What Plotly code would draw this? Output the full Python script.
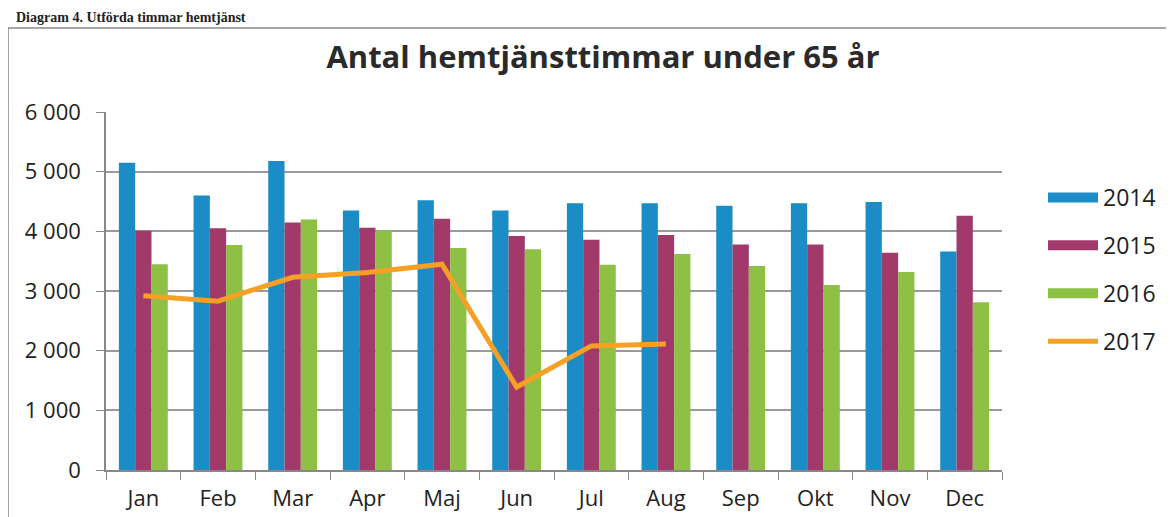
import plotly.graph_objects as go

months = ["Jan", "Feb", "Mar", "Apr", "Maj", "Jun", "Jul", "Aug", "Sep", "Okt", "Nov", "Dec"]
v2014 = [5150, 4600, 5180, 4350, 4520, 4350, 4470, 4470, 4430, 4470, 4490, 3660]
v2015 = [4010, 4050, 4150, 4060, 4210, 3920, 3860, 3940, 3780, 3780, 3640, 4260]
v2016 = [3450, 3770, 4200, 4010, 3720, 3700, 3440, 3620, 3420, 3100, 3320, 2810]
months2017 = ["Jan", "Feb", "Mar", "Apr", "Maj", "Jun", "Jul", "Aug"]
v2017 = [2920, 2830, 3230, 3310, 3450, 1390, 2080, 2110]

yticks = [0, 1000, 2000, 3000, 4000, 5000, 6000]

c2014 = "#1b8cc6"
c2015 = "#a13a6b"
c2016 = "#8dc044"
c2017 = "#f6a025"

fig = go.Figure()
for vals, col, nm in [(v2014, c2014, "2014"), (v2015, c2015, "2015"), (v2016, c2016, "2016")]:
    fig.add_trace(go.Bar(x=months, y=vals, name=nm, marker_color=col,
                         marker_line_width=0, showlegend=False))
fig.add_trace(go.Scatter(x=months2017, y=v2017, name="2017", mode="lines",
                         line=dict(color=c2017, width=5), showlegend=False))

# legend entries (wide swatches like the original)
for nm, col, w in [("2014", c2014, 12), ("2015", c2015, 12), ("2016", c2016, 12), ("2017", c2017, 5)]:
    fig.add_trace(go.Scatter(x=[None], y=[None], mode="lines", name=nm,
                             line=dict(color=col, width=w), legendgroup=nm,
                             showlegend=True))

OFF = 8  # page body margin offset
W, H = 1174, 517
L, R, T, B = 106 - OFF, W - 1002 + OFF, 112 - OFF, H - 470 + OFF
pw = W - L - R
ph = H - T - B

def px(x):
    return (x - OFF - L) / pw

def py(y):
    return (H - B - (y - OFF)) / ph

font = "Open Sans, Lato, sans-serif"

fig.update_layout(
    width=W, height=H,
    margin=dict(l=L, r=R, t=T, b=B, pad=0, autoexpand=False),
    paper_bgcolor="white", plot_bgcolor="white",
    separators=", ",
    barmode="group", bargap=0.345, bargroupgap=0,
    font=dict(family=font, color="#222222", size=22),
    title=dict(text="<b>Antal hemtjänsttimmar under 65 år</b>",
               x=(603 - OFF) / W, xanchor="center", y=1 - (57 - OFF) / H, yanchor="middle",
               font=dict(family=font, size=31, color="#2a2a2a")),
    showlegend=True,
    legend=dict(x=px(1043), xanchor="left", y=py(176), yanchor="top",
                font=dict(family=font, size=23, color="#222222"),
                tracegroupgap=15, itemwidth=50, bgcolor="rgba(0,0,0,0)"),
    xaxis=dict(type="category", tickson="boundaries", ticks="outside", ticklen=8,
               tickcolor="#888888", showline=True, linecolor="#888888", linewidth=1.5,
               showgrid=False, ticklabelstandoff=8, automargin=False,
               tickfont=dict(family=font, size=22, color="#222222")),
    yaxis=dict(range=[0, 6000], tickvals=yticks, tickformat=",d", ticks="outside",
               ticklen=8, tickcolor="#888888", showline=True, linecolor="#888888",
               linewidth=1.5, showgrid=True, gridcolor="#9a9a9a", gridwidth=1.5,
               zeroline=False, ticklabelstandoff=11, automargin=False,
               tickfont=dict(family=font, size=22, color="#222222")),
)

# outer chart frame
fig.add_shape(type="rect", xref="paper", yref="paper",
              x0=px(8), x1=px(1171), y0=py(540), y1=py(28),
              line=dict(color="#8a8a8a", width=1.5), fillcolor="rgba(0,0,0,0)",
              layer="below")

# document caption above the frame
fig.add_annotation(text="<b>Diagram 4. Utförda timmar hemtjänst</b>",
                   xref="paper", yref="paper", x=px(14), y=py(27),
                   xanchor="left", yanchor="bottom", showarrow=False,
                   font=dict(family="Liberation Serif, DejaVu Serif, serif", size=14,
                             color="#222222"))

fig.write_html("out.html")
